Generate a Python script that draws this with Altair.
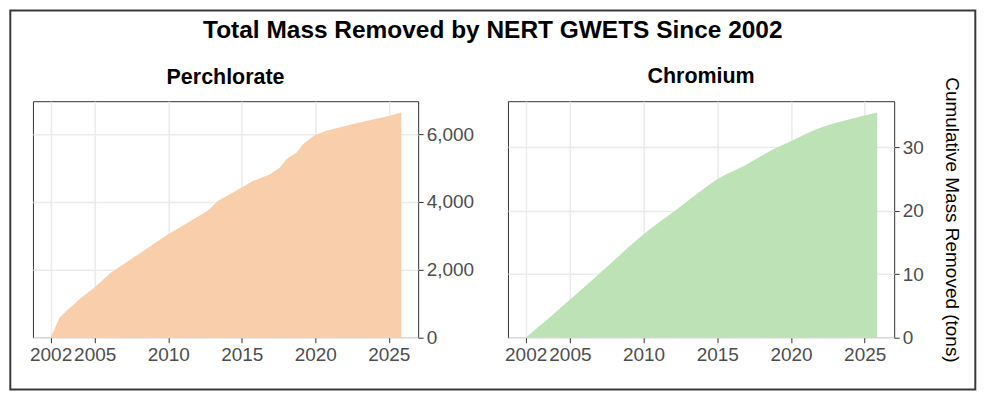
import altair as alt
import pandas as pd

# ---- data ----
perc_year = [2002.0, 2002.6, 2003.18, 2004.08, 2004.9, 2006.1, 2007.46, 2010.0, 2011.52,
             2012.65, 2013.4, 2015.0, 2015.8, 2016.93, 2017.6, 2018.06, 2018.74, 2019.18,
             2019.98, 2020.77, 2022.57, 2025.05, 2025.85]
perc_mass = [0, 585, 833, 1176, 1453, 1915, 2310, 3049, 3442,
             3737, 4040, 4426, 4623, 4820, 5017, 5264, 5460, 5707,
             5973, 6100, 6298, 6544, 6640]

chrom_year = [2002.0, 2005.0, 2007.8, 2010.0, 2012.26, 2014.5, 2015.0, 2016.8, 2019.05,
              2020.0, 2021.78, 2023.58, 2025.85]
chrom_mass = [0, 6.0, 11.8, 16.3, 20.25, 24.2, 25.0, 27.1, 30.0,
              31.0, 32.9, 34.2, 35.5]

year_ticks = [2002, 2005, 2010, 2015, 2020, 2025]
perc_ticks = [0, 2000, 4000, 6000]
chrom_ticks = [0, 10, 20, 30]

main_title = "Total Mass Removed by NERT GWETS Since 2002"
panel_titles = ["Perchlorate", "Chromium"]
y_title = "Cumulative Mass Removed (tons)"

df_p = pd.DataFrame({"year": perc_year, "mass": perc_mass})
df_c = pd.DataFrame({"year": chrom_year, "mass": chrom_mass})
df_frame = pd.DataFrame({"k": [0]})

FONT = "Liberation Sans"

xscale = alt.Scale(domain=[2000.8, 2027.0], nice=False, zero=False)


def xaxis():
    return alt.Axis(values=year_ticks, format="d", title=None,
                    labelOverlap=False, labelFlush=False)


perc_area = alt.Chart(df_p).mark_area(color="#f9cfab", opacity=1).encode(
    x=alt.X("year:Q", scale=xscale, axis=xaxis()),
    y=alt.Y("mass:Q", scale=alt.Scale(domain=[0, 6970], nice=False),
            axis=alt.Axis(orient="right", values=perc_ticks, format=",d", title=None,
                          labelOverlap=False)),
)

frame = alt.Chart(df_frame).mark_rect(
    fill="white", fillOpacity=0, stroke="#3a3a3a", strokeWidth=2
).encode(
    x=alt.value(-22.7), x2=alt.value(944.3), y=alt.value(-91), y2=alt.value(289)
)

p1 = alt.layer(frame, perc_area).properties(
    width=386, height=237,
    title=alt.TitleParams(panel_titles[0], frame="group", offset=-96, baseline="alphabetic",
                          fontSize=21.5, fontWeight="bold", font=FONT, color="black",
                          anchor="middle"),
)

chrom_area = alt.Chart(df_c).mark_area(color="#bde2b6", opacity=1,
                                       interpolate="monotone").encode(
    x=alt.X("year:Q", scale=xscale, axis=xaxis()),
    y=alt.Y("mass:Q", scale=alt.Scale(domain=[0, 37.3], nice=False),
            axis=alt.Axis(orient="right", values=chrom_ticks, format="d", title=y_title,
                          titleAngle=90, titlePadding=18, titleFontSize=19,
                          titleFontWeight="normal", titleColor="black", titleFont=FONT,
                          labelOverlap=False)),
)

p2 = chrom_area.properties(
    width=387, height=237,
    title=alt.TitleParams(panel_titles[1], frame="group", offset=-28, baseline="alphabetic",
                          fontSize=21.5, fontWeight="bold", font=FONT, color="black",
                          anchor="middle"),
)

chart = alt.hconcat(
    p1, p2, spacing=90, bounds="flush",
    title=alt.TitleParams(main_title, fontSize=24.5, fontWeight="bold", font=FONT,
                          color="black", anchor="middle", baseline="alphabetic",
                          offset=-54),
).resolve_scale(
    x="independent", y="independent"
).properties(
    padding=0, background="white"
).configure_view(
    stroke="#333333", strokeWidth=1
).configure_axis(
    labelFont=FONT, labelFontSize=19, labelColor="#4d4d4d", labelPadding=3,
    tickColor="#333333", tickSize=5, tickWidth=1,
    gridColor="#ebebeb", gridWidth=1.5, domain=False,
)

chart.save("out.html", embed_options={"renderer": "svg", "actions": False})
